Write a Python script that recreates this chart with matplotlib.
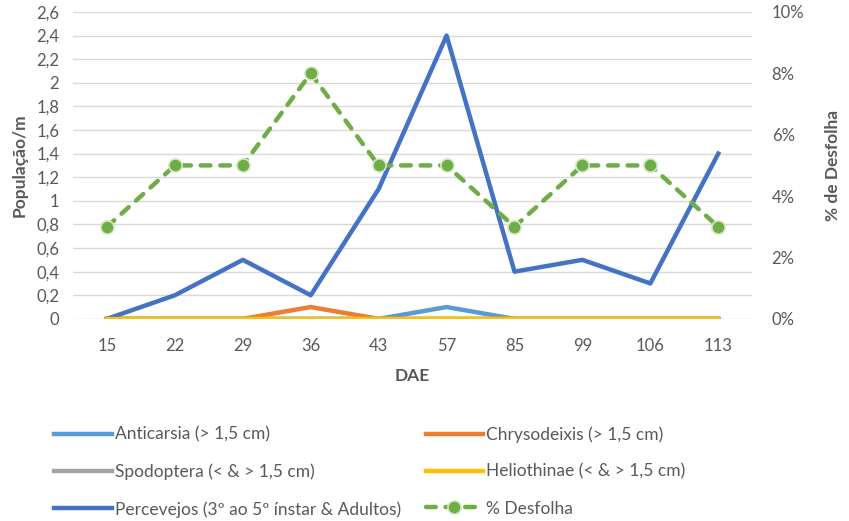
import matplotlib
matplotlib.use("Agg")
import matplotlib.pyplot as plt
from matplotlib.ticker import FuncFormatter, MultipleLocator

categories = ["15", "22", "29", "36", "43", "57", "85", "99", "106", "113"]
anticarsia = [0, 0, 0, 0, 0, 0.1, 0, 0, 0, 0]
chrysodeixis = [0, 0, 0, 0.1, 0, 0, 0, 0, 0, 0]
spodoptera = [0, 0, 0, 0, 0, 0, 0, 0, 0, 0]
heliothinae = [0, 0, 0, 0, 0, 0, 0, 0, 0, 0]
percevejos = [0, 0.2, 0.5, 0.2, 1.1, 2.4, 0.4, 0.5, 0.3, 1.4]
desfolha = [0.03, 0.05, 0.05, 0.08, 0.05, 0.05, 0.03, 0.05, 0.05, 0.03]

names = ["Anticarsia (> 1,5 cm)", "Chrysodeixis (> 1,5 cm)", "Spodoptera (< & > 1,5 cm)",
         "Heliothinae (< & > 1,5 cm)", "Percevejos (3º ao 5º ínstar & Adultos)", "% Desfolha"]

plt.rcParams['font.family'] = ['Lato', 'DejaVu Sans']
txt = "#595959"

fig = plt.figure(figsize=(8.49, 5.21), dpi=100)
ax = fig.add_axes([0.086, 0.388, 0.80, 0.589])
ax2 = ax.twinx()

x = list(range(len(categories)))
lw = 3.2
l_ant, = ax.plot(x, anticarsia, color="#5B9BD5", lw=lw, zorder=3)
l_chr, = ax.plot(x, chrysodeixis, color="#ED7D31", lw=lw, zorder=3)
l_spo, = ax.plot(x, spodoptera, color="#A5A5A5", lw=lw, zorder=4)
l_per, = ax.plot(x, percevejos, color="#4472C4", lw=lw, zorder=5)
l_hel, = ax.plot(x, heliothinae, color="#FFC000", lw=lw, zorder=6)
l_des, = ax2.plot(x, desfolha, color="#70AD47", lw=lw, ls=(0, (2.2, 2.2)),
                  dash_capstyle="round",
                  marker="o", markersize=9.5, markerfacecolor="#70AD47",
                  markeredgecolor="#D5E8C8", markeredgewidth=1.2, zorder=7)

ax.set_xlim(-0.5, len(categories) - 0.5)
ax.set_ylim(0, 2.6)
ax.yaxis.set_major_locator(MultipleLocator(0.2))
ax.yaxis.set_major_formatter(FuncFormatter(lambda v, p: ("%.1f" % v).rstrip("0").rstrip(".").replace(".", ",") if v else "0"))
ax2.set_ylim(0, 0.10)
ax2.yaxis.set_major_locator(MultipleLocator(0.02))
ax2.yaxis.set_major_formatter(FuncFormatter(lambda v, p: "%d%%" % round(v * 100)))
ax.set_xticks(x)
ax.set_xticklabels(categories)

for a in (ax, ax2):
    for s in a.spines.values():
        s.set_visible(False)
    a.tick_params(length=0, labelsize=12, colors=txt)
ax.tick_params(axis="x", pad=14)
ax.tick_params(axis="y", pad=10)
ax2.tick_params(axis="y", pad=14)
ax.grid(axis="y", color="#D9D9D9", lw=1)
ax.set_axisbelow(True)

ax.set_xlabel("DAE", fontsize=12.5, fontweight="bold", color=txt, labelpad=10)
ax.set_ylabel("População/m", fontsize=12.5, fontweight="bold", color=txt, labelpad=6)
ax2.set_ylabel("% de Desfolha", fontsize=12.5, fontweight="bold", color=txt, labelpad=15)

handles = [l_ant, l_spo, l_per, l_chr, l_hel, l_des]
labels = [names[0], names[2], names[4], names[1], names[3], names[5]]
leg = fig.legend(handles, labels, ncol=2, loc="upper left", bbox_to_anchor=(0.064, 0.182),
                 frameon=False, fontsize=12.5, labelcolor=txt, handlelength=3.3,
                 handletextpad=0.2, columnspacing=1.4, labelspacing=1.2, numpoints=1,
                 borderaxespad=0, borderpad=0)

fig.savefig("out.png", dpi=100)
